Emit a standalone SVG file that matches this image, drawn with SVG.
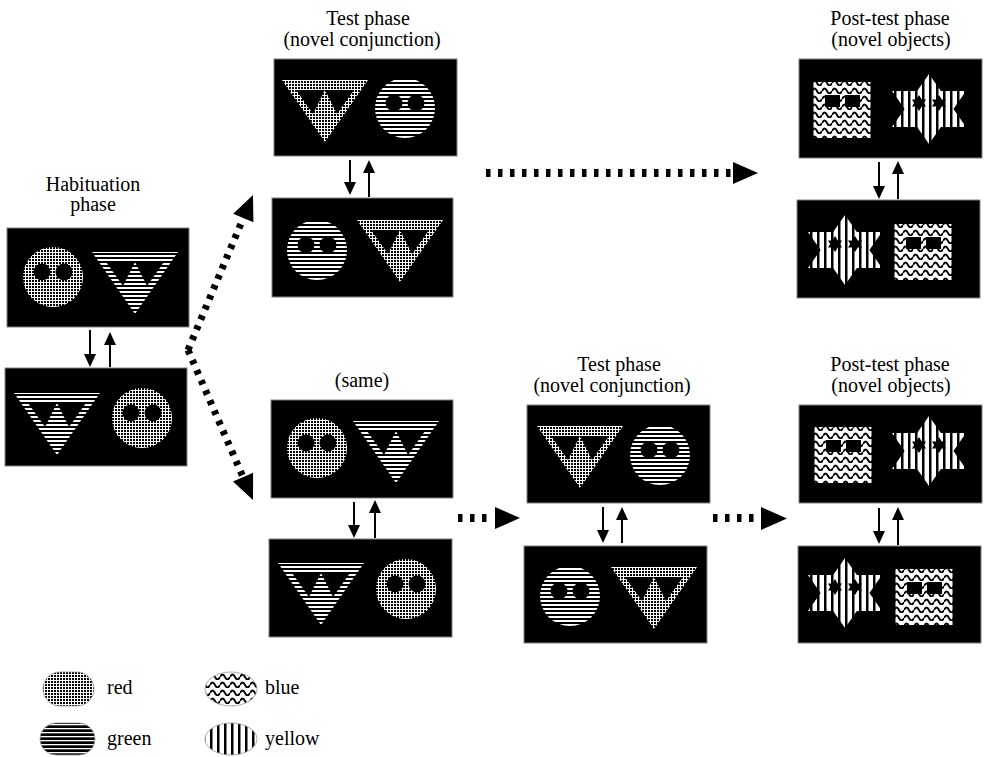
<svg xmlns="http://www.w3.org/2000/svg" width="986" height="757" viewBox="0 0 986 757">
<style>
.panel{fill:#000;stroke:#808080;stroke-width:1}
.t{font-family:"Liberation Serif","Times New Roman",serif;font-size:20px;fill:#000;text-anchor:middle}
.lt{font-family:"Liberation Serif","Times New Roman",serif;font-size:20px;fill:#000}
.arr{stroke:#000;stroke-width:2;fill:none;marker-end:url(#ah)}
.dot{stroke:#000;stroke-width:8;stroke-dasharray:4.5 7.5;fill:none}
.ddot{stroke:#000;stroke-width:7;stroke-dasharray:4.5 6.5;fill:none}
.lg{stroke:#999;stroke-width:0.8}
</style>
<defs>
<pattern id="pRed" width="3" height="3" patternUnits="userSpaceOnUse"><rect width="3" height="3" fill="#fff"/><rect width="2" height="2" fill="#000"/></pattern>
<pattern id="pRedL" width="3" height="3" patternUnits="userSpaceOnUse"><rect width="3" height="3" fill="#fff"/><rect width="2" height="2" fill="#000"/></pattern>
<pattern id="pGreen" width="10" height="4" patternUnits="userSpaceOnUse"><rect width="10" height="4" fill="#fff"/><rect y="2" width="10" height="2" fill="#000"/></pattern>
<pattern id="pGreenL" width="10" height="4" patternUnits="userSpaceOnUse"><rect width="10" height="4" fill="#fff"/><rect y="1.3" width="10" height="2.7" fill="#000"/></pattern>
<pattern id="pBlue" width="10" height="8" patternUnits="userSpaceOnUse"><rect width="10" height="8" fill="#fff"/><path d="M0,5Q2.5,0 5,5T10,5" stroke="#000" stroke-width="1.9" fill="none"/></pattern>
<pattern id="pYel" width="7" height="10" patternUnits="userSpaceOnUse"><rect width="7" height="10" fill="#fff"/><rect width="2.5" height="10" fill="#000"/></pattern>
<marker id="ah" viewBox="0 0 13 12" refX="3" refY="6" markerWidth="13" markerHeight="12" markerUnits="userSpaceOnUse" orient="auto"><path d="M0,0L13,6L0,12z" fill="#000"/></marker>
<g id="oRedC"><circle r="30" fill="url(#pRed)"/><circle cx="-11" cy="-5" r="8.5" fill="#000"/><circle cx="11" cy="-5" r="8.5" fill="#000"/></g>
<g id="oGreenC"><circle r="30" fill="url(#pGreen)"/><circle cx="-11" cy="-5" r="8.5" fill="#000"/><circle cx="11" cy="-5" r="8.5" fill="#000"/></g>
<g id="oGreenT"><path d="M-43,-31H43L0,31Z" fill="url(#pGreen)"/><path d="M-29,-21H0L-12,3ZM0,-21H29L12,3Z" fill="#000"/></g>
<g id="oRedT"><path d="M-43,-31H43L0,31Z" fill="url(#pRed)"/><path d="M-29,-21H0L-12,3ZM0,-21H29L12,3Z" fill="#000"/></g>
<g id="oBlueS"><rect x="-28.5" y="-28" width="57" height="56" fill="url(#pBlue)"/><rect x="-17" y="-15" width="15" height="12" fill="#000"/><rect x="3" y="-15" width="15" height="12" fill="#000"/></g>
<g id="oYelS"><path d="M0,-35L37,18H-37ZM0,35L-37,-18H37Z" fill="url(#pYel)"/><path d="M-10,-14L-3,-2.5H-17ZM-10,2L-17,-9.5H-3ZM10,-14L17,-2.5H3ZM10,2L3,-9.5H17Z" fill="#000"/></g>
</defs>

<g id="titles">
<text class="t" x="93" y="191">Habituation</text>
<text class="t" x="93" y="211">phase</text>
<text class="t" x="368" y="25">Test phase</text>
<text class="t" x="362" y="46">(novel conjunction)</text>
<text class="t" x="890" y="25">Post-test phase</text>
<text class="t" x="891" y="46">(novel objects)</text>
<text class="t" x="362" y="387">(same)</text>
<text class="t" x="619" y="371">Test phase</text>
<text class="t" x="612" y="392">(novel conjunction)</text>
<text class="t" x="890" y="371">Post-test phase</text>
<text class="t" x="891" y="392">(novel objects)</text>
</g>

<g id="hab1"><rect class="panel" x="7" y="228" width="182" height="99"/><use href="#oRedC" x="53" y="277"/><use href="#oGreenT" x="135" y="283"/></g>
<g id="hab2"><rect class="panel" x="5" y="368" width="182" height="98"/><use href="#oGreenT" x="57" y="424"/><use href="#oRedC" x="142" y="418"/></g>
<g id="testA1"><rect class="panel" x="274" y="59" width="183" height="97"/><use href="#oRedT" x="325" y="111"/><use href="#oGreenC" x="405" y="108"/></g>
<g id="testA2"><rect class="panel" x="272" y="198" width="181" height="99"/><use href="#oGreenC" x="317" y="250"/><use href="#oRedT" x="400" y="251"/></g>
<g id="postA1"><rect class="panel" x="799" y="59" width="183" height="99"/><use href="#oBlueS" x="842" y="110"/><use href="#oYelS" x="929" y="109"/></g>
<g id="postA2"><rect class="panel" x="797" y="200" width="183" height="98"/><use href="#oYelS" x="845" y="250"/><use href="#oBlueS" x="923" y="252"/></g>
<g id="same1"><rect class="panel" x="271" y="400" width="182" height="98"/><use href="#oRedC" x="317" y="448"/><use href="#oGreenT" x="396" y="452"/></g>
<g id="same2"><rect class="panel" x="269" y="539" width="183" height="98"/><use href="#oGreenT" x="321" y="594"/><use href="#oRedC" x="406" y="589"/></g>
<g id="testB1"><rect class="panel" x="527" y="405" width="183" height="98"/><use href="#oRedT" x="580" y="457"/><use href="#oGreenC" x="660" y="455"/></g>
<g id="testB2"><rect class="panel" x="524" y="546" width="183" height="97"/><use href="#oGreenC" x="570" y="596"/><use href="#oRedT" x="654" y="598"/></g>
<g id="postB1"><rect class="panel" x="799" y="405" width="183" height="98"/><use href="#oBlueS" x="843" y="455"/><use href="#oYelS" x="929" y="451"/></g>
<g id="postB2"><rect class="panel" x="798" y="546" width="183" height="97"/><use href="#oYelS" x="845" y="593"/><use href="#oBlueS" x="924" y="597"/></g>

<g id="connectors">
<line class="arr" x1="90" y1="330" x2="90" y2="357"/>
<line class="arr" x1="110" y1="367" x2="110" y2="342"/>
<line class="arr" x1="350" y1="160" x2="350" y2="185"/>
<line class="arr" x1="369" y1="197" x2="369" y2="170"/>
<line class="arr" x1="879" y1="162" x2="879" y2="189"/>
<line class="arr" x1="898" y1="199" x2="898" y2="171"/>
<line class="arr" x1="354" y1="502" x2="354" y2="528"/>
<line class="arr" x1="375" y1="538" x2="375" y2="510"/>
<line class="arr" x1="603" y1="507" x2="603" y2="533"/>
<line class="arr" x1="622" y1="543" x2="622" y2="517"/>
<line class="arr" x1="879" y1="508" x2="879" y2="534"/>
<line class="arr" x1="898" y1="545" x2="898" y2="517"/>
<line class="ddot" x1="188" y1="350" x2="243.3" y2="218"/>
<polygon points="253,195 253.4,222.3 233.2,213.8"/>
<line class="ddot" x1="188" y1="350" x2="243" y2="477"/>
<polygon points="253,500 253.1,472.7 233,481.4"/>
<line class="dot" x1="486" y1="173" x2="732" y2="173"/>
<polygon points="733,162 758,173 733,184"/>
<line class="dot" x1="458" y1="518" x2="490" y2="518"/>
<polygon points="495,507 520,518 495,529"/>
<line class="dot" x1="713" y1="518" x2="756" y2="518"/>
<polygon points="761,507 787,518.5 761,530"/>
</g>

<g id="legend">
<rect class="lg" x="43" y="672" width="51" height="34" rx="17" fill="url(#pRedL)"/>
<text class="lt" x="107" y="694">red</text>
<rect class="lg" x="40" y="723" width="55" height="32" rx="16" fill="url(#pGreenL)"/>
<text class="lt" x="107" y="745">green</text>
<ellipse class="lg" cx="231" cy="689" rx="26" ry="17" fill="url(#pBlue)"/>
<text class="lt" x="265" y="694">blue</text>
<ellipse class="lg" cx="231" cy="739" rx="26" ry="16" fill="url(#pYel)"/>
<text class="lt" x="265" y="745">yellow</text>
</g>
</svg>
